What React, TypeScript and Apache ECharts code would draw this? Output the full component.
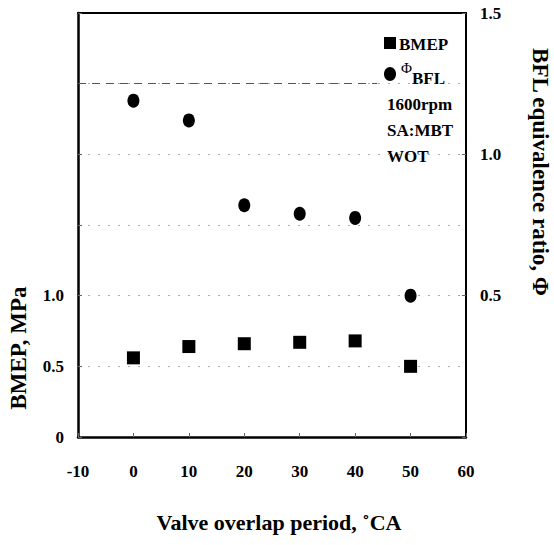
import React, { useEffect, useRef } from "react";
import * as echarts from "echarts";

const overlap = [0, 10, 20, 30, 40, 50];
const bmep = [0.56, 0.64, 0.66, 0.67, 0.68, 0.5];
const phiBfl = [1.19, 1.12, 0.82, 0.79, 0.775, 0.5];
const leftLabels = ["0", "0.5", "1.0"];
const rightLabels = ["0.5", "1.0", "1.5"];
const dashedRef = { y: 2.5, from: -10, to: 44 };
const notes = ["1600rpm", "SA:MBT", "WOT"];

const FONT = "'Liberation Serif', 'DejaVu Serif', serif";

export default function App() {
  const ref = useRef<HTMLDivElement>(null);
  useEffect(() => {
    if (!ref.current) return;
    const chart = echarts.init(ref.current, undefined, { renderer: "svg" });
    const fmt = (v: number) => (v === 0 ? "0" : v.toFixed(1));
    const tickLabel = {
      color: "#000",
      fontFamily: FONT,
      fontWeight: "bold",
      fontSize: 17,
    };
    chart.setOption({
      animation: false,
      backgroundColor: "#fff",
      grid: {
        left: 78,
        right: 88,
        top: 13,
        bottom: 108,
        show: false,
      },
      xAxis: [
        {
          type: "value",
          min: -10,
          max: 60,
          interval: 10,
          axisLine: { show: true, onZero: false, lineStyle: { color: "#000", width: 2.5 } },
          axisTick: { show: true, inside: true, length: 4, lineStyle: { color: "#666" } },
          splitLine: { show: false },
          axisLabel: { ...tickLabel, margin: 26 },
        },
        {
          type: "value",
          position: "top",
          min: -10,
          max: 60,
          interval: 10,
          axisLine: { show: true, onZero: false, lineStyle: { color: "#000", width: 2 } },
          axisTick: { show: false },
          splitLine: { show: false },
          axisLabel: { show: false },
        },
      ],
      yAxis: [
        {
          type: "value",
          min: 0,
          max: 3,
          interval: 0.5,
          position: "left",
          axisLine: { show: true, onZero: false, lineStyle: { color: "#000", width: 2.5 } },
          axisTick: { show: true, inside: true, length: 4, lineStyle: { color: "#666" } },
          splitLine: { show: true, lineStyle: { color: "#aaa", type: [2, 8], width: 1 } },
          axisLabel: {
            ...tickLabel,
            margin: 14,
            formatter: (v: number) => (leftLabels.includes(fmt(v)) ? fmt(v) : ""),
          },
        },
        {
          type: "value",
          min: 0,
          max: 1.5,
          interval: 0.5,
          position: "right",
          axisLine: { show: true, onZero: false, lineStyle: { color: "#000", width: 2 } },
          axisTick: { show: true, inside: true, length: 4, lineStyle: { color: "#666" } },
          splitLine: { show: false },
          axisLabel: {
            ...tickLabel,
            margin: 14,
            formatter: (v: number) => (rightLabels.includes(fmt(v)) ? fmt(v) : ""),
          },
        },
      ],
      series: [
        {
          name: "BMEP",
          type: "scatter",
          yAxisIndex: 0,
          symbol: "rect",
          symbolSize: 13,
          itemStyle: { color: "#000", opacity: 1 },
          data: overlap.map((x, i) => [x, bmep[i]]),
          markLine: {
            silent: true,
            symbol: "none",
            label: { show: false },
            lineStyle: { color: "#555", type: [8, 6], width: 1 },
            data: [
              [
                { coord: [dashedRef.from, dashedRef.y] },
                { coord: [dashedRef.to, dashedRef.y] },
              ],
            ],
          },
        },
        {
          name: "ΦBFL",
          type: "scatter",
          yAxisIndex: 1,
          symbol: "circle",
          symbolSize: [12, 14],
          itemStyle: { color: "#000", opacity: 1 },
          data: overlap.map((x, i) => [x, phiBfl[i]]),
        },
      ],
      graphic: [
        {
          type: "rect",
          shape: { x: 384, y: 37, width: 12, height: 12 },
          style: { fill: "#000" },
        },
        {
          type: "text",
          x: 399,
          y: 44,
          style: {
            text: "BMEP",
            fontFamily: FONT,
            fontWeight: "bold",
            fontSize: 17,
            fill: "#000",
            verticalAlign: "middle",
          },
        },
        {
          type: "ellipse",
          shape: { cx: 390, cy: 74, rx: 6, ry: 7 },
          style: { fill: "#000" },
        },
        {
          type: "text",
          x: 401,
          y: 68,
          style: {
            text: "Φ",
            fontFamily: FONT,
            fontSize: 15,
            fill: "#000",
            verticalAlign: "middle",
          },
        },
        {
          type: "text",
          x: 412,
          y: 78,
          style: {
            text: "BFL",
            fontFamily: FONT,
            fontWeight: "bold",
            fontSize: 17,
            fill: "#000",
            verticalAlign: "middle",
          },
        },
        ...notes.map((t, i) => ({
          type: "text",
          x: 387,
          y: 104 + i * 26,
          style: {
            text: t,
            fontFamily: FONT,
            fontWeight: "bold",
            fontSize: 17,
            fill: "#000",
            verticalAlign: "middle",
          },
        })),
        {
          type: "text",
          x: 18,
          y: 348,
          rotation: Math.PI / 2,
          style: {
            text: "BMEP, MPa",
            fontFamily: FONT,
            fontWeight: "bold",
            fontSize: 23,
            fill: "#000",
            align: "center",
            verticalAlign: "middle",
          },
        },
        {
          type: "text",
          x: 540,
          y: 172,
          rotation: -Math.PI / 2,
          style: {
            text: "BFL equivalence ratio, Φ",
            fontFamily: FONT,
            fontWeight: "bold",
            fontSize: 23,
            fill: "#000",
            align: "center",
            verticalAlign: "middle",
          },
        },
        {
          type: "text",
          x: 279,
          y: 522,
          style: {
            text: "Valve overlap period, ˚CA",
            fontFamily: FONT,
            fontWeight: "bold",
            fontSize: 22,
            fill: "#000",
            align: "center",
            verticalAlign: "middle",
          },
        },
      ],
    });
    return () => chart.dispose();
  }, []);
  return (
    <div
      ref={ref}
      style={{ position: "fixed", left: 0, top: 0, width: 554, height: 545 }}
    />
  );
}
